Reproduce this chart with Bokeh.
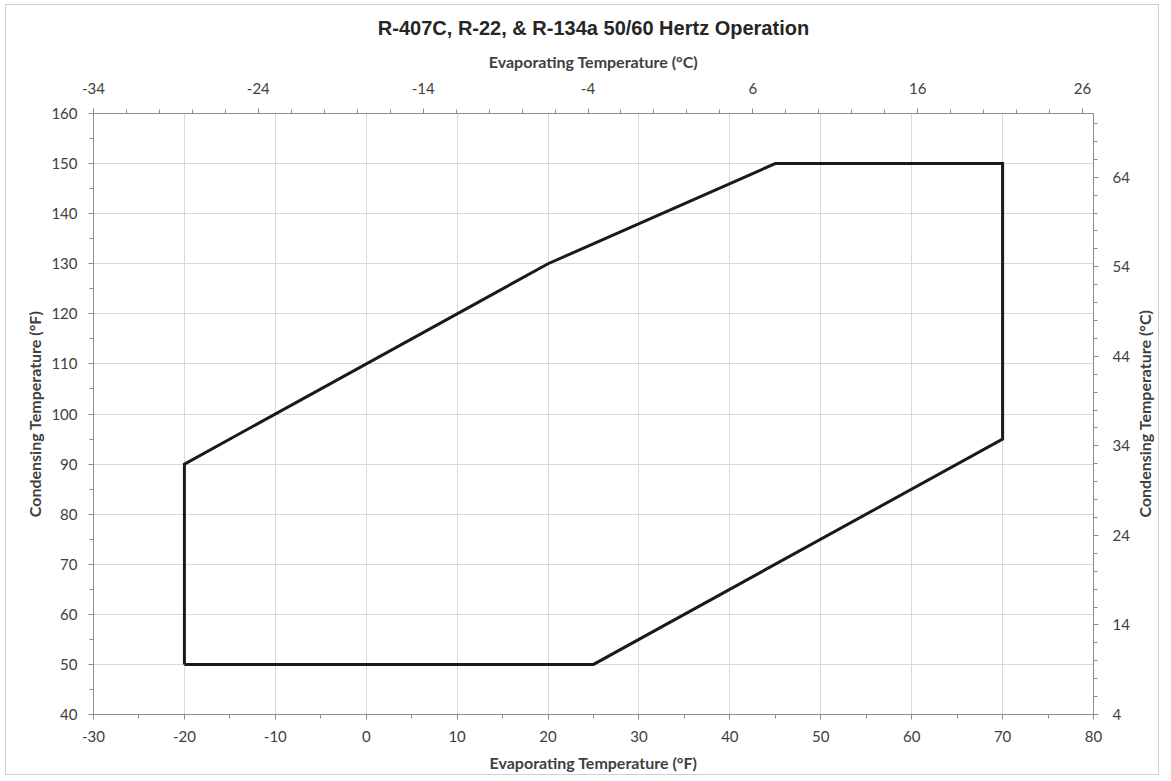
from bokeh.plotting import figure
from bokeh.layouts import row
from bokeh.models import LinearAxis, Range1d, FixedTicker, PrintfTickFormatter, Div
from bokeh.embed import file_html
from bokeh.resources import INLINE

# Operating envelope (°F)
evap_f = [-20, -20, 20, 45, 70, 70, 25, -20]
cond_f = [50, 90, 130, 150, 150, 95, 50, 50]

x_ticks_f = [-30, -20, -10, 0, 10, 20, 30, 40, 50, 60, 70, 80]
y_ticks_f = [40, 50, 60, 70, 80, 90, 100, 110, 120, 130, 140, 150, 160]
x_ticks_c = [-34, -24, -14, -4, 6, 16, 26]
y_ticks_c = [4, 14, 24, 34, 44, 54, 64]

TITLE = "R-407C, R-22, & R-134a 50/60 Hertz Operation"
RIGHT_LABEL = "Condensing Temperature (°C)"

AXIS_COL = "#8c8c8c"
GRID_COL = "#d9d9d9"
TICK_TXT = "#404040"
LBL_TXT = "#404040"

TOP, FRAME_H, BOTTOM = 108, 601, 56
DIV_W = 26

p = figure(frame_width=1000, frame_height=FRAME_H,
           min_border_left=87, min_border_right=34, min_border_top=TOP, min_border_bottom=BOTTOM,
           x_range=Range1d(-30, 80), y_range=Range1d(40, 160),
           output_backend="svg", toolbar_location=None, title=TITLE)

bottom = p.below[0]
left = p.left[0]
bottom.axis_label = "Evaporating Temperature (°F)"
left.axis_label = "Condensing Temperature (°F)"

p.extra_x_ranges = {"c": Range1d(-34, 26.667)}
p.extra_y_ranges = {"c": Range1d(4, 71.111)}

top = LinearAxis(x_range_name="c", axis_label="Evaporating Temperature (°C)")
right = LinearAxis(y_range_name="c")
p.add_layout(top, "above")
p.add_layout(right, "right")

bottom.ticker = FixedTicker(ticks=x_ticks_f, minor_ticks=list(range(-30, 81, 5)))
left.ticker = FixedTicker(ticks=y_ticks_f, minor_ticks=list(range(40, 161, 5)))
top.ticker = FixedTicker(ticks=x_ticks_c, minor_ticks=list(range(-34, 27, 2)))
right.ticker = FixedTicker(ticks=y_ticks_c, minor_ticks=list(range(4, 71, 2)))

for ax in [bottom, left, top, right]:
    ax.formatter = PrintfTickFormatter(format="%d")
    ax.axis_line_color = AXIS_COL
    ax.major_tick_line_color = AXIS_COL
    ax.minor_tick_line_color = AXIS_COL
    ax.major_tick_out = 5
    ax.major_tick_in = 0
    ax.minor_tick_out = 4
    ax.minor_tick_in = 0
    ax.major_label_text_font = "Lato"
    ax.major_label_text_font_size = "15px"
    ax.major_label_text_color = TICK_TXT
    ax.axis_label_text_font = "Lato"
    ax.axis_label_text_font_size = "16px"
    ax.axis_label_text_font_style = "bold"
    ax.axis_label_text_color = LBL_TXT

bottom.major_label_standoff = 11
bottom.axis_label_standoff = 8
top.major_label_standoff = 15
top.axis_label_standoff = 9
left.major_label_standoff = 11
left.axis_label_standoff = 4
right.major_label_standoff = 14

p.xgrid.ticker = FixedTicker(ticks=x_ticks_f)
p.ygrid.ticker = FixedTicker(ticks=y_ticks_f)
p.xgrid.grid_line_color = GRID_COL
p.ygrid.grid_line_color = GRID_COL
p.outline_line_color = None

p.title.align = "center"
p.title.text_font = "Liberation Sans"
p.title.text_font_size = "20px"
p.title.text_font_style = "bold"
p.title.text_color = "#262626"
p.title.standoff = 19

p.line(evap_f, cond_f, line_width=3, line_color="#1a1a1a", line_join="miter")

# Right-hand (°C) axis title, reading bottom-to-top, centred on the plot frame
div = Div(
    text=(f'<div style="width:{DIV_W}px;height:{FRAME_H}px;margin-top:{TOP}px;display:flex;'
          f'align-items:center;justify-content:center;">'
          f'<span style="writing-mode:vertical-rl;transform:rotate(180deg);'
          f'font-family:Lato;font-weight:bold;font-size:16px;color:{LBL_TXT};'
          f'white-space:nowrap;">{RIGHT_LABEL}</span></div>'),
    width=DIV_W, height=TOP + FRAME_H + BOTTOM,
    styles={"margin": "0", "padding": "0"})

layout = row(p, div, spacing=0)
layout.styles = {"border": "1px solid #d0d0d0", "margin-left": "5px", "margin-top": "4px",
                 "width": "fit-content"}

open("out.html", "w").write(file_html(layout, INLINE))
